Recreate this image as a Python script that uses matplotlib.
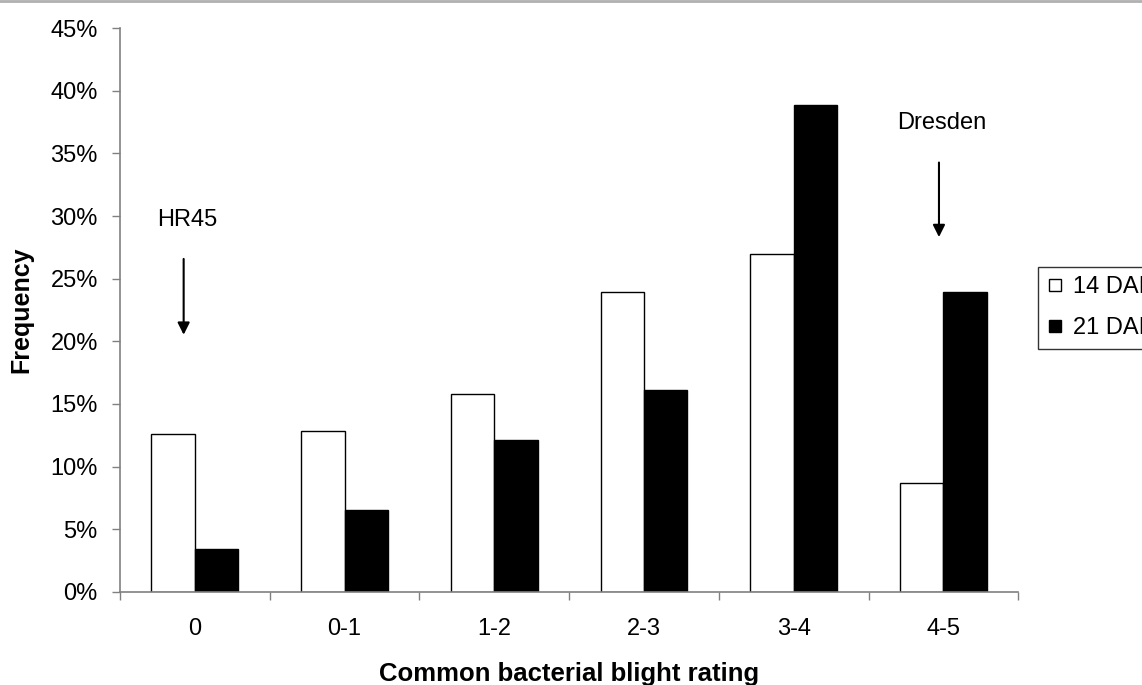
import numpy as np
import matplotlib
matplotlib.use("Agg")
from matplotlib import pyplot as plt
from matplotlib.lines import Line2D
from matplotlib.ticker import PercentFormatter

plt.rcParams['font.family'] = ['Liberation Sans', 'DejaVu Sans']

# data
kategori = ['0', '0-1', '1-2', '2-3', '3-4', '4-5']
dai14 = [0.126, 0.128, 0.158, 0.239, 0.270, 0.087]
dai21 = [0.034, 0.065, 0.121, 0.161, 0.389, 0.239]
label_seri = ['14 DAI', '21 DAI']

fig = plt.figure(figsize=(11.42, 6.85), dpi=100)
ax = fig.add_axes([0.1051, 0.1362, 0.7866, 0.8225])

x = np.arange(len(kategori))
lebar = 0.29
ax.bar(x - lebar/2, dai14, lebar, color='white', edgecolor='black', linewidth=1.0)
ax.bar(x + lebar/2, dai21, lebar, color='black', edgecolor='black', linewidth=1.0)

ax.set_xlim(-0.5, len(kategori) - 0.5)
ax.set_ylim(0, 0.45)
ax.set_yticks(np.arange(0, 0.451, 0.05))
ax.yaxis.set_major_formatter(PercentFormatter(1.0, decimals=0))

# tick di batas kategori, label di tengah
ax.set_xticks(np.arange(-0.5, len(kategori), 1.0))
ax.set_xticklabels([])
ax.set_xticks(x, minor=True)
ax.set_xticklabels(kategori, minor=True)
ax.tick_params(axis='x', which='major', direction='out', length=6, color='#808080', width=1)
ax.tick_params(axis='x', which='minor', length=0, pad=19, labelsize=17)
ax.tick_params(axis='y', direction='out', length=6, color='#808080', width=1,
               pad=10, labelsize=17)

for s in ['top', 'right']:
    ax.spines[s].set_visible(False)
for s in ['left', 'bottom']:
    ax.spines[s].set_color('#808080')
    ax.spines[s].set_linewidth(1.2)

ax.set_xlabel('Common bacterial blight rating', fontsize=18.5, fontweight='bold')
ax.xaxis.set_label_coords(0.5, -0.146)
ax.xaxis.label.set_va('center')
ax.set_ylabel('Frequency', fontsize=18, fontweight='bold', labelpad=12)

# anotasi
ax.text(-0.05, 0.297, 'HR45', fontsize=17, ha='center', va='center')
ax.annotate('', xy=(-0.075, 0.203), xytext=(-0.075, 0.268),
            arrowprops=dict(arrowstyle='-|>', color='black', lw=1.5, mutation_scale=18))
ax.text(4.99, 0.374, 'Dresden', fontsize=17, ha='center', va='center')
ax.annotate('', xy=(4.97, 0.281), xytext=(4.97, 0.345),
            arrowprops=dict(arrowstyle='-|>', color='black', lw=1.5, mutation_scale=18))

# legenda dengan penanda kotak kecil (terpotong di tepi kanan seperti aslinya)
h14 = Line2D([], [], marker='s', linestyle='none', markersize=8,
             markerfacecolor='white', markeredgecolor='black', markeredgewidth=1.0)
h21 = Line2D([], [], marker='s', linestyle='none', markersize=8,
             markerfacecolor='black', markeredgecolor='black', markeredgewidth=1.0)
leg = fig.legend([h14, h21], label_seri, loc='upper left',
                 bbox_to_anchor=(1038/1142, 1 - 267/685),
                 fontsize=17, frameon=True, fancybox=False, edgecolor='black',
                 handlelength=0.6, handletextpad=0.5,
                 borderpad=0.4, labelspacing=0.8, borderaxespad=0)
leg.get_frame().set_linewidth(1.0)

# garis abu-abu di atas
fig.add_artist(Line2D([0, 1], [0.999, 0.999], color='#b0b0b0', lw=2))

fig.savefig('out.png', dpi=100)
